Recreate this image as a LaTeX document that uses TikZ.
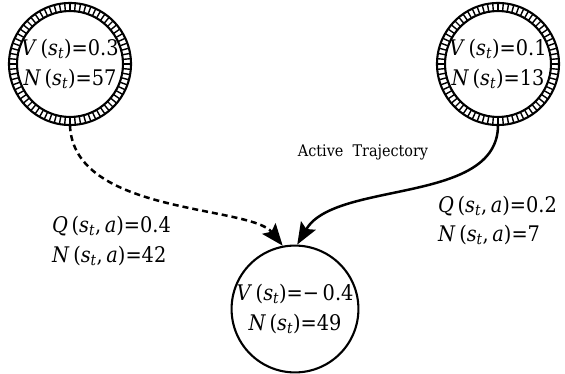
\documentclass[tikz,border=0pt]{standalone}
\usepackage{fontspec}
\setmainfont{DejaVu Serif Condensed}
\usetikzlibrary{arrows.meta}
\newcommand{\vi}[1]{\textit{#1}}
\newcommand{\st}{(\vi{s}\textsubscript{\vi{t}})}
\newcommand{\sta}{(\vi{s}\textsubscript{\vi{t}},\,\vi{a})}
\tikzset{
  state/.style={circle, inner sep=0pt, minimum size=#1, align=center,
    font=\fontsize{21.5}{30}\selectfont},
  lbl/.style={anchor=west, inner sep=0pt, align=left,
    font=\fontsize{21.5}{30}\selectfont},
  ringline/.style={line width=2.1pt},
  tick/.style={line width=1.4pt},
  conn/.style={line width=2.5pt, -{Stealth[length=22pt,width=17pt,inset=4pt]}},
}
\begin{document}
\begin{tikzpicture}[x=1pt,y=-1pt]
\useasboundingbox (0,0) rectangle (565,374);
% nodes
\node[state=122pt] (A) at (70,64) {\vi{V}\,\st=0.3\\\vi{N}\,\st=57};
\node[state=122pt] (B) at (498,64) {\vi{V}\,\st=0.1\\\vi{N}\,\st=13};
\node[state=126pt, draw, line width=2.1pt] (C) at (295,309) {\vi{V}\,\st=−\,0.4\\\vi{N}\,\st=49};
% hatched rings
\foreach \n in {A,B}{
  \draw[ringline] (\n.center) circle (61pt);
  \draw[ringline] (\n.center) circle (53pt);
  \foreach \a in {0,5,...,355}
    \draw[tick] ([shift={(\a:53pt)}]\n.center) -- ([shift={(\a:61pt)}]\n.center);
}
% connectors
\draw[conn, dash pattern=on 6pt off 4pt] (A.south) .. controls (73,215) and (250,205) .. (C.101);
\draw[conn] (B.south) .. controls (498,205) and (335,180) .. (C.88);
% labels
\node[font=\fontsize{16}{18}\selectfont] (T) at (363,152) {Active\ \ Trajectory};
\node[lbl] (QL) at (52,226) {\vi{Q}\,\sta=0.4};
\node[lbl] (NL) at (52,256) {\vi{N}\,\sta=42};
\node[lbl] (QR) at (438,206) {\vi{Q}\,\sta=0.2};
\node[lbl] (NR) at (438,235) {\vi{N}\,\sta=7};
\end{tikzpicture}
\end{document}
